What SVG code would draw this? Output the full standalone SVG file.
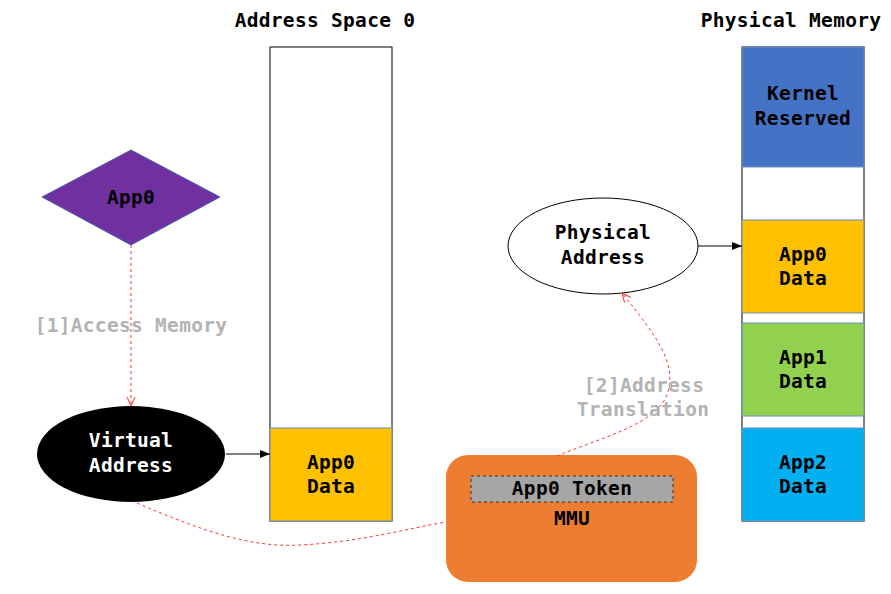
<svg xmlns="http://www.w3.org/2000/svg" width="891" height="594" viewBox="0 0 891 594">
<style>
text{font-family:"DejaVu Sans Mono","Liberation Mono",monospace;font-weight:bold;font-size:19.5px;letter-spacing:0.3px;text-anchor:middle;fill:#000}
.w{fill:#fff}
.g{fill:#b3b3b3}
.blk{stroke:#6c8ebf;stroke-width:1}
.red{fill:none;stroke:#ff3333;stroke-width:1;stroke-dasharray:3 3}
.sol{fill:none;stroke:#000;stroke-width:1}
</style>
<defs>
<marker id="ah" viewBox="0 0 10 10" refX="10" refY="5" markerWidth="10" markerHeight="10" markerUnits="userSpaceOnUse" orient="auto">
<path d="M0,1 L10,5 L0,9 Z" fill="#000"/>
</marker>
<marker id="oh" viewBox="0 0 10 10" refX="10" refY="5" markerWidth="10" markerHeight="10" markerUnits="userSpaceOnUse" orient="auto">
<path d="M1,1 L10,5 L1,9" fill="none" stroke="#ff3333" stroke-width="1"/>
</marker>
</defs>
<rect width="891" height="594" fill="#fff"/>
<g id="title-as"><text x="325" y="27">Address Space 0</text></g>
<g id="title-pm"><text x="791" y="27">Physical Memory</text></g>
<g id="addr-space">
<rect x="270" y="47" width="122" height="474" fill="#fff" stroke="#000"/>
<rect class="blk" x="270" y="428" width="122" height="93" fill="#ffc000"/>
<text x="331" y="469">App0</text><text x="331" y="493">Data</text>
</g>
<g id="phys-mem">
<rect x="742" y="47" width="122" height="474" fill="#fff" stroke="#000"/>
<rect class="blk" x="742" y="47" width="122" height="120" fill="#4472c4"/>
<text x="803" y="100">Kernel</text><text x="803" y="125">Reserved</text>
<rect class="blk" x="742" y="220" width="122" height="93" fill="#ffc000"/>
<text x="803" y="261">App0</text><text x="803" y="285">Data</text>
<rect class="blk" x="742" y="323" width="122" height="93" fill="#92d050"/>
<text x="803" y="364">App1</text><text x="803" y="388">Data</text>
<rect class="blk" x="742" y="428" width="122" height="93" fill="#00b0f0"/>
<text x="803" y="469">App2</text><text x="803" y="493">Data</text>
</g>
<g id="app0">
<polygon points="42,197 131,150 220,197 131,245" fill="#7030a0" stroke="#4a5fa8"/>
<text x="131" y="204">App0</text>
</g>
<g id="virtual-address">
<ellipse cx="131" cy="454" rx="94" ry="48" fill="#000"/>
<text class="w" x="131" y="447">Virtual</text><text class="w" x="131" y="472">Address</text>
</g>
<g id="physical-address">
<ellipse cx="603" cy="246" rx="95" ry="48" fill="#fff" stroke="#000"/>
<text x="603" y="239">Physical</text><text x="603" y="264">Address</text>
</g>
<g id="mmu">
<rect x="446" y="455" width="251" height="127" rx="22" fill="#ed7d31"/>
<rect x="471" y="476" width="202" height="26" fill="#a6a6a6" stroke="#333" stroke-dasharray="3 3"/>
<text x="572" y="495">App0 Token</text>
<text x="572" y="525">MMU</text>
</g>
<g id="connectors">
<path class="red" d="M131,245 L131,406" marker-end="url(#oh)"/>
<path class="sol" d="M226,454 L270,454" marker-end="url(#ah)"/>
<path class="sol" d="M698,246 L742,246" marker-end="url(#ah)"/>
<path class="red" d="M137,503 C200,530 250,548 300,545 C360,542 400,530 446,522"/>
<path class="red" d="M557,456 C600,438 655,425 667,395 C677,365 660,340 622,293" marker-end="url(#oh)"/>
<text class="g" x="131" y="332">[1]Access Memory</text>
<text class="g" x="644" y="392">[2]Address</text>
<text class="g" x="643" y="416">Translation</text>
</g>
</svg>
